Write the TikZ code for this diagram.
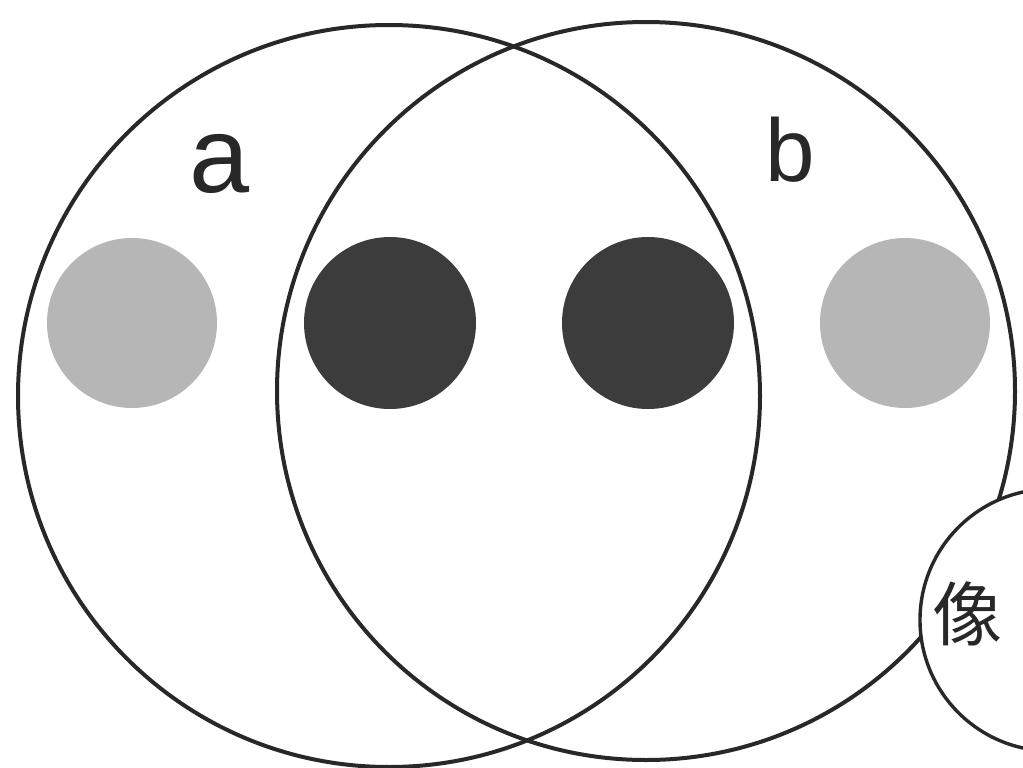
\documentclass[tikz,border=0pt]{standalone}
\usepackage{fontspec}
\setmainfont{Liberation Sans}
\newfontfamily\cjk{Noto Sans CJK SC}
\definecolor{lineC}{RGB}{40,40,40}
\definecolor{grayC}{RGB}{182,182,182}
\definecolor{darkC}{RGB}{60,60,60}
\begin{document}
\begin{tikzpicture}[x=1pt,y=-1pt,
  bigring/.style={circle,draw=lineC,line width=4pt,inner sep=0pt,outer sep=0pt},
  graydot/.style={circle,fill=grayC,inner sep=0pt,minimum size=170pt},
  darkdot/.style={circle,fill=darkC,inner sep=0pt,minimum size=172pt},
  lbl/.style={inner sep=0pt,text=lineC}]
\useasboundingbox (0,0) rectangle (1023,768);
\fill[white] (0,0) rectangle (1023,768);
\node[bigring,minimum size=742pt] (L) at (389,396) {};
\node[bigring,minimum size=738pt] (R) at (646,391) {};
\node[graydot] (g1) at (132,323) {};
\node[darkdot] (d1) at (390,323) {};
\node[darkdot] (d2) at (648,323) {};
\node[graydot] (g2) at (905,323) {};
\node[bigring,fill=white,minimum size=262pt,line width=3.4pt] (E) at (1051,620) {};
\node[lbl,font=\fontsize{108}{108}\selectfont] (a) at (220,164) {a};
\node[lbl,font=\fontsize{89}{89}\selectfont] (b) at (790,150) {b};
\node[lbl,font=\cjk\fontsize{70}{70}\selectfont,anchor=west] (t) at (932,614) {像};
\end{tikzpicture}
\end{document}
